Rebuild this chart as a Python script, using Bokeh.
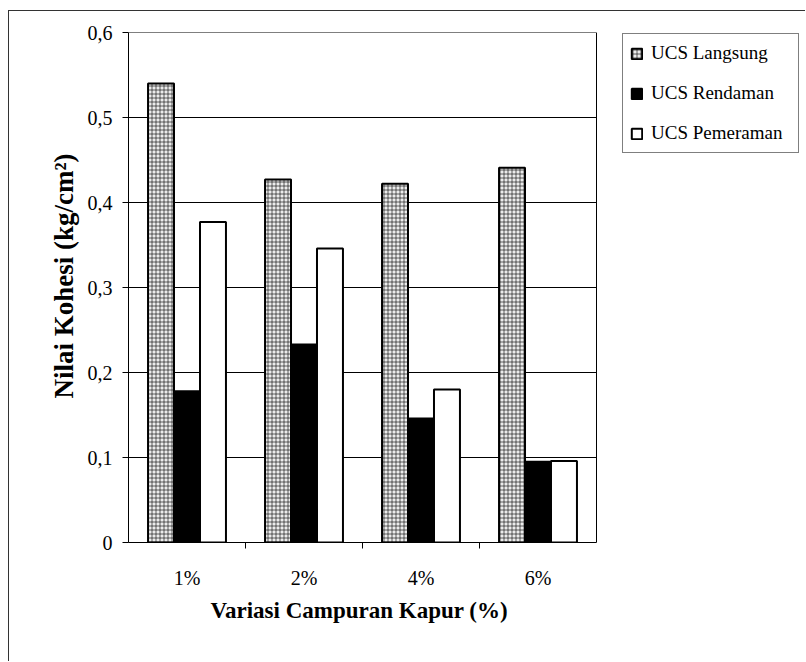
import numpy as np
from bokeh.plotting import figure
from bokeh.models import (ColumnDataSource, FixedTicker, Legend, LegendItem, Range1d, Title)
from bokeh.transform import dodge
from bokeh.embed import file_html
from bokeh.resources import INLINE

# Cohesion values (kg/cm2) per lime content
categories = ["1%", "2%", "4%", "6%"]
ucs_langsung = [0.540, 0.427, 0.422, 0.441]
ucs_rendaman = [0.178, 0.233, 0.146, 0.095]
ucs_pemeraman = [0.377, 0.346, 0.180, 0.096]
series_names = ["UCS Langsung", "UCS Rendaman", "UCS Pemeraman"]

y_ticks = [0, 0.1, 0.2, 0.3, 0.4, 0.5, 0.6]
y_tick_labels = ["0", "0,1", "0,2", "0,3", "0,4", "0,5", "0,6"]

x_title = "Variasi Campuran Kapur (%)"
y_title = "Nilai Kohesi (kg/cm\u00b2)"

n_cat = len(categories)
x_centers = [i + 0.5 for i in range(n_cat)]
x_bounds = [i for i in range(1, n_cat)]

source = ColumnDataSource(dict(
    x=x_centers,
    langsung=ucs_langsung,
    rendaman=ucs_rendaman,
    pemeraman=ucs_pemeraman,
))

SERIF = "Liberation Serif"

# canvas layout (px): the bar area is 468 px wide, the legend sits to its right
W, H = 797, 651
LEFT, TOP, BOTTOM = 119, 21, 120
BAR_AREA = 468
frame_w = W - LEFT
x_end = n_cat * frame_w / BAR_AREA

p = figure(
    width=W, height=H,
    x_range=Range1d(0, x_end), y_range=Range1d(0, y_ticks[-1]),
    output_backend="svg", toolbar_location=None,
    min_border_left=LEFT, min_border_right=0,
    min_border_top=TOP, min_border_bottom=BOTTOM,
    background_fill_color="white", border_fill_color="white",
    outline_line_color=None,
    styles={"margin-left": "8px", "margin-top": "10px",
            "border-top": "1px solid #333", "border-left": "1px solid #333"},
)

# horizontal grid lines and the box around the bar area
p.xgrid.visible = False
p.ygrid.visible = False
p.segment(x0=[0] * len(y_ticks), x1=[n_cat] * len(y_ticks), y0=y_ticks, y1=y_ticks,
          line_color="black", line_width=1)
p.segment(x0=[n_cat], x1=[n_cat], y0=[0], y1=[y_ticks[-1]], line_color="black", line_width=1)

bar_w = 0.222
r_lang = p.vbar(x=dodge("x", -bar_w, range=p.x_range), top="langsung", width=bar_w,
                source=source, fill_color="#ececec", line_color="black", line_width=2,
                hatch_pattern="+", hatch_color="black", hatch_scale=4,
                hatch_weight=1, hatch_alpha=0.6)
r_rend = p.vbar(x="x", top="rendaman", width=bar_w, source=source,
                fill_color="black", line_color="black", line_width=2)
r_peme = p.vbar(x=dodge("x", bar_w, range=p.x_range), top="pemeraman", width=bar_w,
                source=source, fill_color="white", line_color="black", line_width=2)

# y axis
p.yaxis.ticker = FixedTicker(ticks=y_ticks)
p.yaxis.major_label_overrides = {t: s for t, s in zip(y_ticks, y_tick_labels)}
p.yaxis.major_tick_out = 6
p.yaxis.major_tick_in = 0
p.yaxis.minor_tick_out = 0
p.yaxis.major_label_standoff = 10
p.yaxis.major_label_text_font = SERIF
p.yaxis.major_label_text_font_size = "20px"
p.yaxis.major_label_text_color = "black"
p.yaxis.axis_line_color = "black"

# x axis: labels at group centres, ticks between groups
p.xaxis.bounds = (0, n_cat)
p.xaxis.ticker = FixedTicker(ticks=x_centers, minor_ticks=x_bounds)
p.xaxis.major_label_overrides = {c: s for c, s in zip(x_centers, categories)}
p.xaxis.major_tick_out = 0
p.xaxis.major_tick_in = 0
p.xaxis.minor_tick_out = 6
p.xaxis.minor_tick_in = 0
p.xaxis.minor_tick_line_color = "black"
p.xaxis.major_label_standoff = 18
p.xaxis.major_label_text_font = SERIF
p.xaxis.major_label_text_font_size = "20px"
p.xaxis.major_label_text_color = "black"
p.xaxis.axis_line_color = "black"

# axis titles, placed under / beside the bar area only
p.add_layout(Title(text=x_title, align="left", offset=82, standoff=8,
                   text_font=SERIF, text_font_style="bold", text_font_size="23px",
                   text_color="black"), "below")
p.add_layout(Title(text=y_title, align="left", offset=144, standoff=12,
                   text_font=SERIF, text_font_style="bold", text_font_size="27px",
                   text_color="black"), "left")

legend = Legend(
    items=[LegendItem(label=n, renderers=[r]) for n, r in
           zip(series_names, [r_lang, r_rend, r_peme])],
    location=(BAR_AREA + 26, 389),
    padding=7, spacing=16, label_height=24, label_width=140,
    glyph_width=13, glyph_height=13, label_standoff=8,
    label_text_font=SERIF, label_text_font_size="19px", label_text_color="black",
    border_line_color="black", border_line_width=1,
    background_fill_color="white", background_fill_alpha=1,
    margin=0,
)
p.add_layout(legend)

open("out.html", "w").write(file_html(p, INLINE))
